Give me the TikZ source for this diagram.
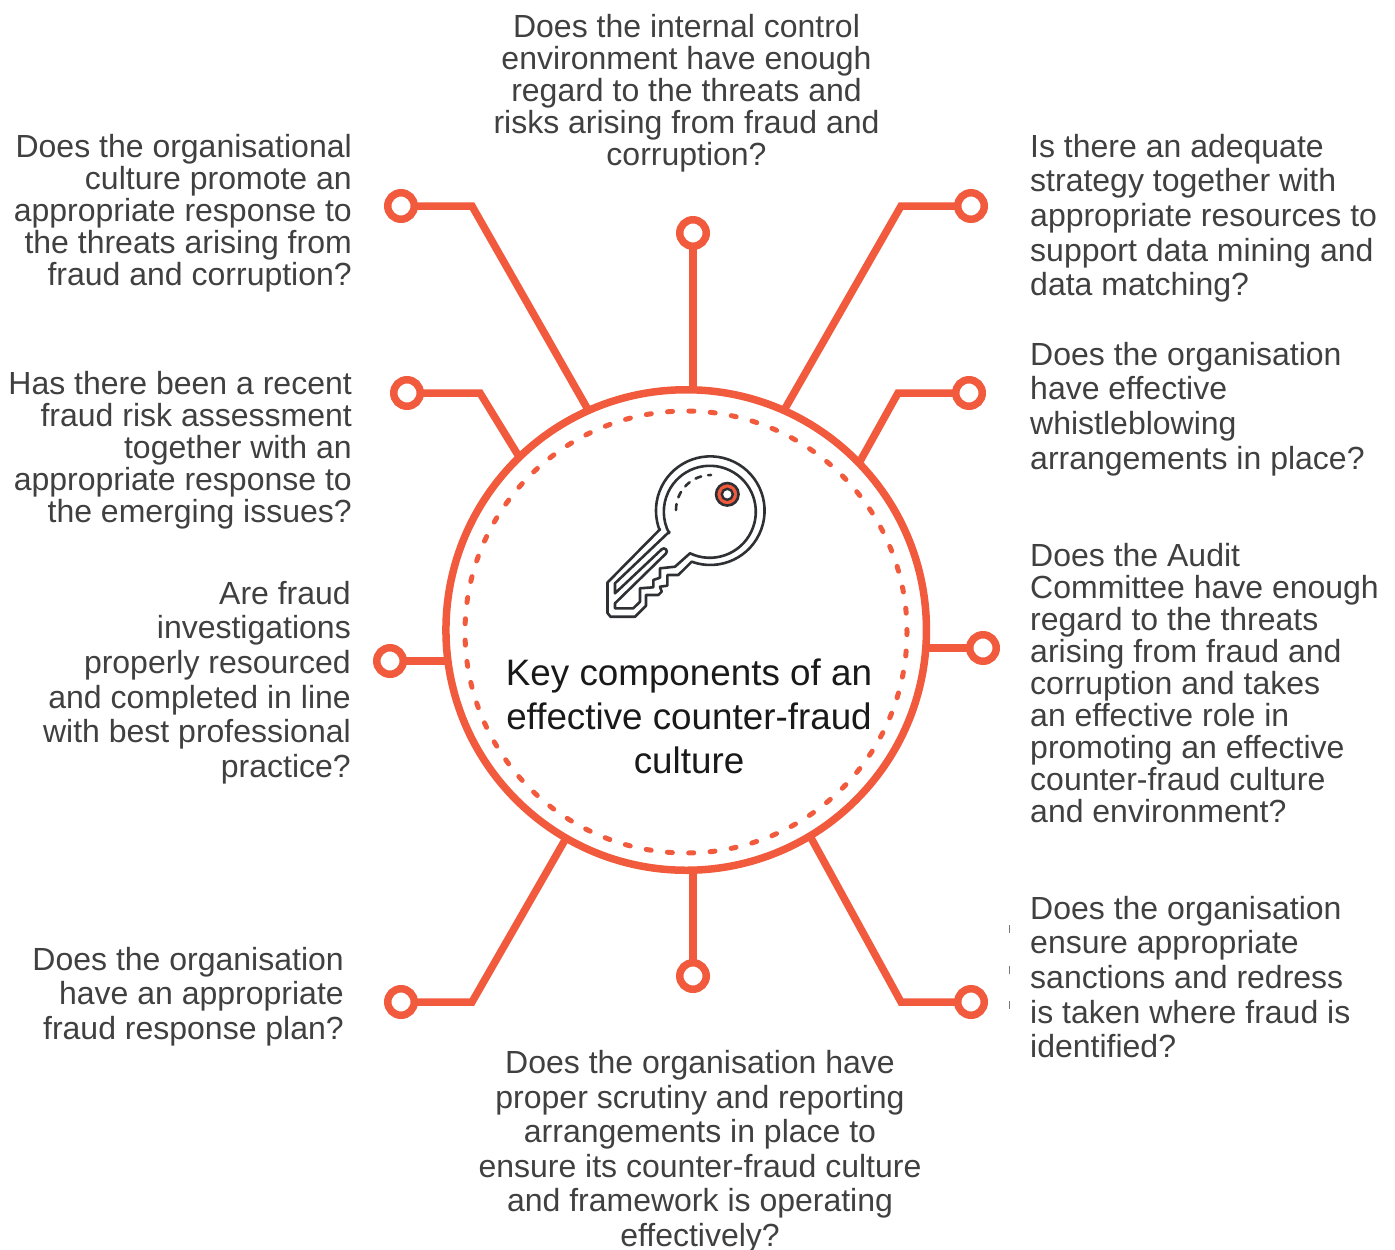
\documentclass[tikz,border=0pt]{standalone}
\usepackage{fontspec}
\setmainfont{Liberation Sans}
\usepackage{xcolor}
\definecolor{ringred}{HTML}{F15A3C}
\definecolor{keydark}{HTML}{2E3033}
\definecolor{quetext}{HTML}{404040}
\tikzset{
	every pin/.style={circle, draw=ringred, line width=7.5pt, fill=white, minimum size=26.5pt, inner sep=0pt, outer sep=0pt},
	every link/.style={draw=ringred, line width=7.5pt, line join=miter},
	question/.style={text=quetext, inner sep=0pt, font=\fontsize{32}{32}\selectfont},
	question wide/.style={text=quetext, inner sep=0pt, font=\fontsize{32}{34.6}\selectfont},
	key line/.style={draw=keydark, line width=2.6pt, line join=round, line cap=round}
}

\begin{document}
\begin{tikzpicture}[x=1pt, y=-1pt]
	\useasboundingbox (0,0) rectangle (1395,1250);

	% ring
	\node [circle, draw=ringred, line width=7.5pt, minimum size=480.5pt, inner sep=0pt, outer sep=0pt] (ring) at (686.2,630) {};
	\node [circle, draw=ringred, line width=5pt, line cap=round, dash pattern=on 5pt off 16.363pt, dash phase=2.5pt, minimum size=442pt, inner sep=0pt, outer sep=0pt] (dots) at (686,632) {};

	% pins
	\foreach \m/\x/\y in {top/693/233, ul/401/206, ur/971/206, ml/407/393, mr/969/393, l/390/661, r/983/648, ll/401/1002, lr/971/1002, bot/693/976}
	  \node [every pin] (pin-\m) at (\x,\y) {};

	% links with a bend
	\foreach \m/\x/\y/\a in {ul/472/206/114, ur/901/206/66, ml/480/393/134.5, mr/898/393/44.3, ll/472/1002/240.2, lr/901/1002/-59.7}
	  {
	  \coordinate (bend-\m) at (\x,\y);
	  \draw [every link] (pin-\m) -- (bend-\m) -- (ring.\a);
	  }

	% straight links
	\draw [every link] (pin-top) -- (pin-top |- ring.88.3);
	\draw [every link] (pin-bot) -- (pin-bot |- ring.-88.3);
	\draw [every link] (pin-l) -- (pin-l -| ring.186.9);
	\draw [every link] (pin-r) -- (pin-r -| ring.-3.8);

	% key
	\draw [key line] (660,529.3) -- (607.5,582.5) -- (607.5,613) -- (610.5,616.7) -- (635,616.7) -- (646,605.7) -- (646,595) -- (658.3,595) -- (661.7,591.7) -- (660,586.7) -- (667.3,585.7) -- (667.3,575) -- (678.3,575) -- (691.7,561.7)
	  arc [start angle=110, end angle=-201, radius=54.3] -- cycle;
	\draw [key line] (669.3,531.7) -- (615,583.3) -- (615,593.3) -- (661.7,549.3) arc [start angle=-135, end angle=45, radius=3] -- (615,603.3) -- (615,608.3) -- (633.3,608.3) -- (640,601.7) -- (640,588.3) -- (653.3,587.3) -- (653.3,580) -- (660,577.7) -- (660,568.3) -- (675,566.7) -- (690,553.3)
	  arc [start angle=115.5, end angle=-207.7, radius=46] -- cycle;
	\draw [key line, dash pattern=on 6pt off 7pt] (676,510) arc [start angle=180, end angle=270, radius=35];
	\node [circle, draw=keydark, line width=2.6pt, fill=ringred, minimum size=22.5pt, inner sep=0pt] (hole) at (727.3,494.3) {};
	\node [circle, draw=keydark, line width=2.4pt, fill=white, minimum size=11pt, inner sep=0pt] (hole-in) at (727.3,494.3) {};

	% title
	\node [text=black!90, inner sep=0pt, align=center, font=\fontsize{36.8}{44}\selectfont, anchor=north] (title) at (689,659) {Key components of an\\effective counter-fraud\\culture};

	% questions
	\node [question, align=center, anchor=north] (q-top) at (686.5,14) {Does the internal control\\environment have enough\\regard to the threats and\\risks arising from fraud and\\corruption?};
	\node [question, align=right, anchor=north east] (q-ul) at (352,134) {Does the organisational\\culture promote an\\appropriate response to\\the threats arising from\\fraud and corruption?};
	\node [question, align=right, anchor=north east] (q-ml) at (352,371) {Has there been a recent\\fraud risk assessment\\together with an\\appropriate response to\\the emerging issues?};
	\node [question wide, align=right, anchor=north east] (q-l) at (351,581) {Are fraud\\investigations\\properly resourced\\and completed in line\\with best professional\\practice?};
	\node [question wide, align=right, anchor=north east] (q-ll) at (344,947) {Does the organisation\\have an appropriate\\fraud response plan?};
	\node [question wide, align=center, anchor=north] (q-bot) at (700,1050) {Does the organisation have\\proper scrutiny and reporting\\arrangements in place to\\ensure its counter-fraud culture\\and framework is operating\\effectively?};
	\node [question wide, align=left, anchor=north west] (q-ur) at (1030,134) {Is there an adequate\\strategy together with\\appropriate resources to\\support data mining and\\data matching?};
	\node [question wide, align=left, anchor=north west] (q-mr) at (1030,342) {Does the organisation\\have effective\\whistleblowing\\arrangements in place?};
	\node [question, align=left, anchor=north west] (q-r) at (1030,543) {Does the Audit\\Committee have enough\\regard to the threats\\arising from fraud and\\corruption and takes\\an effective role in\\promoting an effective\\counter-fraud culture\\and environment?};
	\node [question wide, align=left, anchor=north west] (q-lr) at (1030,896) {Does the organisation\\ensure appropriate\\sanctions and redress\\is taken where fraud is\\identified?};

	% clipped marks beside the last question
	\foreach \y in {929,970,1005}
	  \fill [quetext!70] (1008.5,\y-4) rectangle (1010,\y+4);
\end{tikzpicture}
\end{document}
